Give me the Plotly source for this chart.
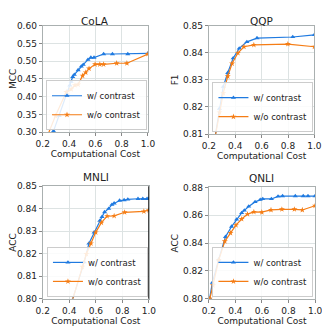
import plotly.graph_objects as go

# ---- data ----
tasks = ["CoLA", "QQP", "MNLI", "QNLI"]
metrics = ["MCC", "F1", "ACC", "ACC"]

cola_x_c = [0.26, 0.282, 0.326, 0.384, 0.406, 0.416, 0.428, 0.44, 0.469, 0.493, 0.508,
            0.544, 0.566, 0.59, 0.663, 0.73, 0.847, 1.0]
cola_y_c = [0.28, 0.303, 0.346, 0.408, 0.432, 0.442, 0.456, 0.462, 0.475, 0.485, 0.490,
            0.504, 0.510, 0.510, 0.520, 0.520, 0.520, 0.522]
cola_x_o = [0.225, 0.297, 0.379, 0.416, 0.445, 0.469, 0.503, 0.527, 0.552, 0.598,
            0.634, 0.663, 0.762, 0.84, 1.0]
cola_y_o = [0.28, 0.346, 0.413, 0.421, 0.432, 0.434, 0.459, 0.468, 0.479, 0.491,
            0.491, 0.491, 0.494, 0.494, 0.520]

qqp_x_c = [0.24, 0.28, 0.309, 0.343, 0.384, 0.43, 0.488, 0.565, 0.836, 1.0]
qqp_y_c = [0.807, 0.8194, 0.8275, 0.8326, 0.838, 0.8416, 0.844, 0.8454, 0.8458, 0.8466]
qqp_x_o = [0.24, 0.28, 0.309, 0.343, 0.376, 0.42, 0.466, 0.541, 0.799, 1.0]
qqp_y_o = [0.807, 0.818, 0.8251, 0.8313, 0.836, 0.8399, 0.8422, 0.8429, 0.8432, 0.8422]

mnli_x_c = [0.42, 0.512, 0.548, 0.587, 0.63, 0.647, 0.666, 0.697, 0.721, 0.738, 0.779,
            0.813, 0.841, 0.918, 0.954, 0.986, 1.0]
mnli_y_c = [0.7988, 0.8163, 0.8246, 0.8295, 0.8347, 0.8364, 0.8385, 0.840, 0.8418, 0.8424,
            0.8436, 0.8438, 0.8441, 0.8444, 0.8444, 0.8444, 0.8445]
mnli_x_o = [0.42, 0.498, 0.529, 0.563, 0.599, 0.642, 0.685, 0.738, 0.817, 0.962, 1.0]
mnli_y_o = [0.7988, 0.8142, 0.8199, 0.8246, 0.8295, 0.8338, 0.8367, 0.8368, 0.8384, 0.8388,
            0.8393]

qnli_x_c = [0.2, 0.207, 0.226, 0.274, 0.325, 0.371, 0.409, 0.447, 0.467, 0.5, 0.548, 0.587,
            0.606, 0.671, 0.721, 0.755, 0.851, 0.911, 0.947, 1.0]
qnli_y_c = [0.797, 0.8005, 0.8116, 0.8283, 0.8445, 0.8519, 0.857, 0.8617, 0.8635, 0.8663,
            0.8696, 0.8712, 0.8717, 0.8717, 0.8735, 0.8738, 0.8738, 0.8738, 0.8738, 0.8738]
qnli_x_o = [0.2, 0.207, 0.231, 0.274, 0.32, 0.363, 0.404, 0.447, 0.491, 0.539, 0.599,
            0.668, 0.75, 0.844, 0.904, 1.0]
qnli_y_o = [0.797, 0.80, 0.8097, 0.8278, 0.8413, 0.8473, 0.8529, 0.8573, 0.8608, 0.8624,
            0.8622, 0.8638, 0.8643, 0.8643, 0.8638, 0.8668]

y_ranges = [(0.30, 0.60, 0.05), (0.81, 0.85, 0.01), (0.80, 0.85, 0.01), (0.80, 0.88, 0.02)]
x_ticks = [0.2, 0.4, 0.6, 0.8, 1.0]

series = [
    (cola_x_c, cola_y_c, cola_x_o, cola_y_o),
    (qqp_x_c, qqp_y_c, qqp_x_o, qqp_y_o),
    (mnli_x_c, mnli_y_c, mnli_x_o, mnli_y_o),
    (qnli_x_c, qnli_y_c, qnli_x_o, qnli_y_o),
]

# ---- layout in screen pixels; the page body adds an 8px margin ----
OFF = 8
W = 330 - OFF
# (left, right, top, bottom) of each plot area, in screen pixels
# (top row pushed down a little so its titles fit below the page margin)
boxes = [(37, 147, 21, 131), (210.7, 321, 21, 133),
         (37, 148, 186.7, 303), (210.7, 321.7, 188, 303)]
# legend (right, bottom) anchors in screen pixels
legend_pos = [(146, 129), (320, 131), (147, 301), (320, 301)]


def px(v):
    return (v - OFF) / W


BLUE = "#1f7ae0"
ORANGE = "#f57d15"
FONT = "DejaVu Sans"

fig = go.Figure()
layout = dict(
    width=W, height=W, margin=dict(l=0, r=0, t=0, b=0),
    paper_bgcolor="white", plot_bgcolor="white",
    font=dict(family=FONT, size=9, color="#222"),
    showlegend=True, annotations=[],
)

for i, (xc, yc, xo, yo) in enumerate(series):
    n = "" if i == 0 else str(i + 1)
    leg = "legend" + n
    l, r, t, b = boxes[i]
    fig.add_trace(go.Scatter(
        x=xc, y=yc, mode="lines+markers", name="w/ contrast",
        xaxis="x" + n, yaxis="y" + n, legend=leg,
        line=dict(color=BLUE, width=1.2),
        marker=dict(symbol="triangle-up", size=4.5, color=BLUE),
    ))
    fig.add_trace(go.Scatter(
        x=xo, y=yo, mode="lines+markers", name="w/o contrast",
        xaxis="x" + n, yaxis="y" + n, legend=leg,
        line=dict(color=ORANGE, width=1.2),
        marker=dict(symbol="star", size=4.5, color=ORANGE),
    ))
    y0, y1, dy = y_ranges[i]
    layout["xaxis" + n] = dict(
        domain=[px(l), px(r)], range=[0.2, 1.0], anchor="y" + n,
        tickvals=x_ticks, tickformat=".1f", ticks="outside", ticklen=3,
        tickcolor="#888", showgrid=True, gridcolor="#dde3e3", gridwidth=1,
        showline=True, linecolor="#aab0b0", linewidth=1, mirror=True,
        zeroline=False, tickfont=dict(size=9),
        title=dict(text="Computational Cost", font=dict(size=9), standoff=2),
    )
    layout["yaxis" + n] = dict(
        domain=[1 - px(b), 1 - px(t)], range=[y0, y1], anchor="x" + n,
        dtick=dy, tick0=y0, tickformat=".2f", ticks="outside", ticklen=3,
        tickcolor="#888", showgrid=True, gridcolor="#dde3e3", gridwidth=1,
        showline=True, linecolor="#aab0b0", linewidth=1, mirror=True,
        zeroline=False, tickfont=dict(size=9),
        title=dict(text=metrics[i], font=dict(size=9), standoff=2),
    )
    lx, ly = legend_pos[i]
    layout[leg] = dict(
        x=px(lx), y=1 - px(ly), xanchor="right", yanchor="bottom",
        bgcolor="rgba(255,255,255,0.85)", bordercolor="#cccccc", borderwidth=1,
        font=dict(size=8.5), itemwidth=30, tracegroupgap=0,
    )
    if i < 2:
        # top row: hang the title from the top of the figure
        title_pos = dict(y=1, yanchor="top")
    else:
        title_pos = dict(y=1 - px(t), yanchor="bottom", yshift=1)
    layout["annotations"].append(dict(
        text=tasks[i], x=(px(l) + px(r)) / 2, xref="paper", yref="paper",
        xanchor="center", showarrow=False,
        font=dict(size=10.5, color="#222"), **title_pos,
    ))

# dark right edge seen on the MNLI panel
layout["shapes"] = [dict(type="line", xref="x3", yref="y3 domain", x0=1.0, x1=1.0,
                         y0=0, y1=1, line=dict(color="#111", width=1.5))]

fig.update_layout(**layout)
fig.write_html("out.html")
